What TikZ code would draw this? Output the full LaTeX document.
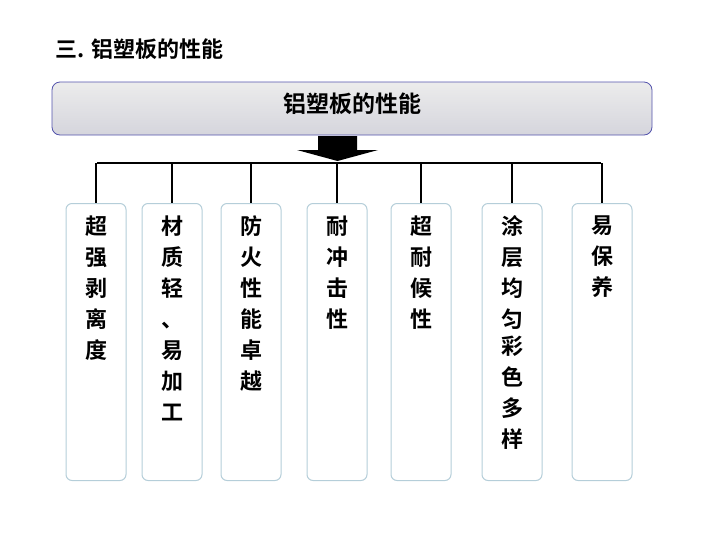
\documentclass[tikz,border=0pt]{standalone}
\usepackage{fontspec}
\newfontfamily\cjk{Noto Sans CJK SC}[BoldFont={* Bold}]
\begin{document}
\begin{tikzpicture}[x=1pt,y=-1pt,
  item/.style={draw=cyan!35!gray!50, line width=1pt, rounded corners=6pt, fill=white, minimum width=60pt, minimum height=277pt, anchor=north},
  vtxt/.style={anchor=north, align=center, font=\cjk\bfseries\fontsize{22}{31}\selectfont},
  link/.style={line width=1.6pt, black}]
\useasboundingbox (0,0) rectangle (702,550);
\node[anchor=west, font=\cjk\bfseries\fontsize{22}{24}\selectfont] (title) at (52,49) {三. 铝塑板的性能};
\node[draw=blue!35!gray, line width=0.8pt, rounded corners=8pt, top color=gray!15, bottom color=blue!10!gray!30, minimum width=600pt, minimum height=53pt] (main) at (352,108.5) {};
\node[font=\cjk\bfseries\fontsize{23}{26}\selectfont] at (352,104) {铝塑板的性能};
\fill[black] (318,136) -- (357,136) -- (357,150) -- (378,150) -- (337.5,161) -- (297,150) -- (318,150) -- cycle;
\coordinate (hl) at (97,163); \coordinate (hr) at (601,163);
\draw[link] (hl) -- (hr);
\foreach \n/\x/\t in {a/96/{超\\强\\剥\\离\\度}, b/172/{材\\质\\轻\\、\\易\\加\\工}, c/251/{防\\火\\性\\能\\卓\\越}, d/337/{耐\\冲\\击\\性}, e/421/{超\\耐\\候\\性}, f/512/{涂\\层\\均\\匀\\[-4pt]彩\\色\\多\\样}, g/602/{易\\保\\养}}{
  \node[item] (\n) at (\x,203) {};
  \node[vtxt] at (\x,212) {\t};
  \draw[link] (\n.north |- hl) -- (\n.north);
}
\end{tikzpicture}
\end{document}
